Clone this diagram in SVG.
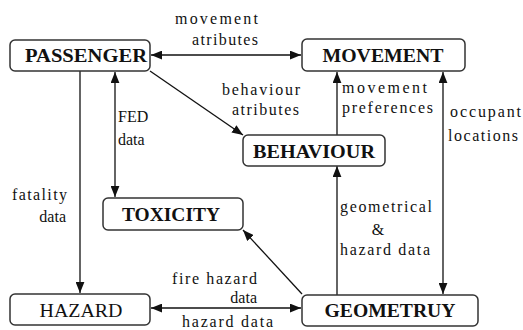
<svg xmlns="http://www.w3.org/2000/svg" width="523" height="330" viewBox="0 0 523 330" font-family="Liberation Serif, DejaVu Serif, Times New Roman, serif">
<style>
.box{fill:#fff;stroke:#333;stroke-width:1.5}
.nt{font-size:19px;font-weight:bold;fill:#111;text-anchor:middle}
.nr{font-weight:normal}
.lb{font-size:16px;fill:#111}
.c{fill:none;stroke:#111;stroke-width:1.3}
</style>
<defs>
<marker id="ah" markerUnits="userSpaceOnUse" markerWidth="11" markerHeight="9" refX="10" refY="4" orient="auto-start-reverse" viewBox="0 0 10 8">
<path d="M0,0 L10,4 L0,8 z" fill="#111"/>
</marker>
</defs>
<rect width="523" height="330" fill="#fff"/>
<g id="connectors">
<line class="c" x1="151" y1="55" x2="301" y2="55" marker-start="url(#ah)" marker-end="url(#ah)"/>
<line class="c" x1="150" y1="71" x2="243" y2="135" marker-end="url(#ah)"/>
<line class="c" x1="80" y1="71" x2="80" y2="293" marker-end="url(#ah)"/>
<line class="c" x1="115" y1="72" x2="115" y2="197" marker-start="url(#ah)" marker-end="url(#ah)"/>
<line class="c" x1="337" y1="135" x2="337" y2="72" marker-end="url(#ah)"/>
<line class="c" x1="443" y1="72" x2="443" y2="294" marker-start="url(#ah)" marker-end="url(#ah)"/>
<line class="c" x1="337" y1="295" x2="337" y2="166" marker-end="url(#ah)"/>
<line class="c" x1="302" y1="294" x2="243" y2="230" marker-end="url(#ah)"/>
<line class="c" x1="151" y1="308" x2="301" y2="308" marker-start="url(#ah)" marker-end="url(#ah)"/>
</g>
<g id="labels" font-family="Liberation Serif, serif">
<text class="lb" x="258" y="24" text-anchor="end" textLength="83" lengthAdjust="spacing">movement</text>
<text class="lb" x="258" y="45" text-anchor="end" textLength="66" lengthAdjust="spacing">atributes</text>
<text class="lb" x="300" y="95" text-anchor="end" textLength="78" lengthAdjust="spacing">behaviour</text>
<text class="lb" x="299" y="115" text-anchor="end" textLength="67" lengthAdjust="spacing">atributes</text>
<text class="lb" x="342" y="93" textLength="85" lengthAdjust="spacing">movement</text>
<text class="lb" x="342" y="113" textLength="91" lengthAdjust="spacing">preferences</text>
<text class="lb" x="450" y="117" textLength="71" lengthAdjust="spacing">occupant</text>
<text class="lb" x="448" y="141" textLength="70" lengthAdjust="spacing">locations</text>
<text class="lb" x="118" y="122">FED</text>
<text class="lb" x="118" y="145">data</text>
<text class="lb" x="67" y="200" text-anchor="end" textLength="55" lengthAdjust="spacing">fatality</text>
<text class="lb" x="66" y="222" text-anchor="end">data</text>
<text class="lb" x="340" y="212" textLength="92" lengthAdjust="spacing">geometrical</text>
<text class="lb" x="378" y="235" text-anchor="middle">&amp;</text>
<text class="lb" x="340" y="255" textLength="90" lengthAdjust="spacing">hazard data</text>
<text class="lb" x="257" y="284" text-anchor="end" textLength="85" lengthAdjust="spacing">fire hazard</text>
<text class="lb" x="257" y="303" text-anchor="end">data</text>
<text class="lb" x="182" y="327" textLength="91" lengthAdjust="spacing">hazard data</text>
</g>
<g id="passenger">
<rect class="box" x="10" y="40" width="140" height="31" rx="5"/>
<text class="nt" x="86" y="62" textLength="122" lengthAdjust="spacingAndGlyphs">PASSENGER</text>
</g>
<g id="movement">
<rect class="box" x="302" y="39" width="163" height="32" rx="5"/>
<text class="nt" x="383" y="62" textLength="121" lengthAdjust="spacingAndGlyphs">MOVEMENT</text>
</g>
<g id="behaviour">
<rect class="box" x="243" y="135" width="142" height="31" rx="5"/>
<text class="nt" x="314" y="158" textLength="122" lengthAdjust="spacingAndGlyphs">BEHAVIOUR</text>
</g>
<g id="toxicity">
<rect class="box" x="103" y="198" width="140" height="32" rx="5"/>
<text class="nt" x="171" y="221" textLength="98" lengthAdjust="spacingAndGlyphs">TOXICITY</text>
</g>
<g id="hazard">
<rect class="box" x="10" y="294" width="140" height="31" rx="5"/>
<text class="nt nr" x="81" y="317" textLength="83" lengthAdjust="spacingAndGlyphs">HAZARD</text>
</g>
<g id="geometruy">
<rect class="box" x="302" y="295" width="176" height="31" rx="5"/>
<text class="nt" x="390" y="317" textLength="131" lengthAdjust="spacingAndGlyphs">GEOMETRUY</text>
</g>
</svg>
